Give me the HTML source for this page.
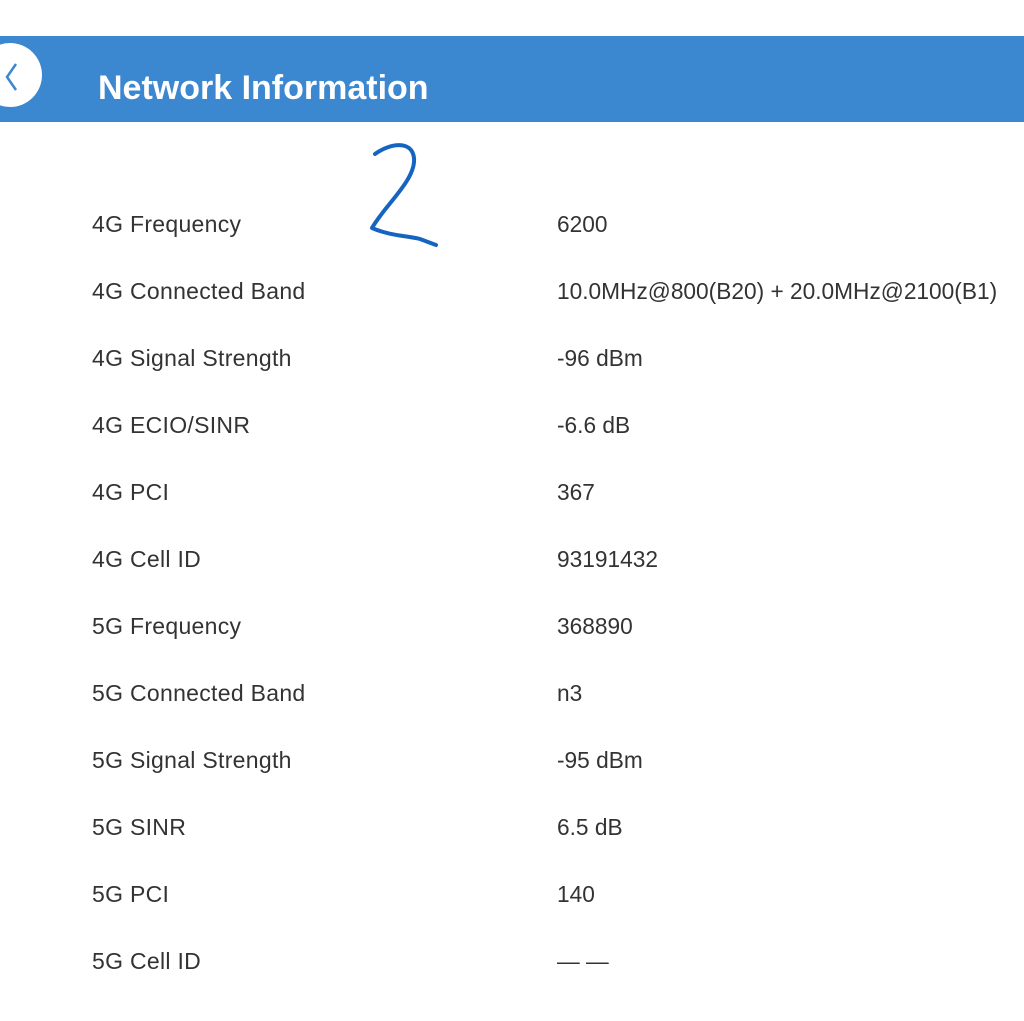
<!DOCTYPE html>
<html><head><meta charset="utf-8"><style>
html,body{margin:0;padding:0;background:#fff;width:1024px;height:1021px;overflow:hidden;position:relative;font-family:"Liberation Sans",sans-serif;}
.bar{position:absolute;left:0;top:36px;width:1024px;height:86px;background:#3b87d0;}
.circ{position:absolute;left:-22px;top:43px;width:64px;height:64px;border-radius:50%;background:#fff;}
.title{position:absolute;left:98px;top:68px;font-size:34px;font-weight:bold;color:#fff;line-height:40px;}
.l,.v{position:absolute;font-size:23px;color:#333;line-height:26px;}
.l{left:92px;letter-spacing:0.3px}.v{left:557px;font-size:22.7px}
</style></head><body>
<div class="bar"></div>
<div class="circ"></div>
<svg style="position:absolute;left:0;top:0" width="1024" height="1021">
<polyline points="16,64 7,77 16,90" fill="none" stroke="#3b87d0" stroke-width="2.5"/>
<path d="M375,154 C390,143 412,140 414,158 C416,180 385,205 372,228 C390,236 410,236 420,239 L436,245" fill="none" stroke="#1565c0" stroke-width="4" stroke-linecap="round" stroke-linejoin="round"/>
</svg>
<div class="title">Network Information</div>
<div class="l" style="top:211px">4G Frequency</div><div class="v" style="top:211px">6200</div>
<div class="l" style="top:278px">4G Connected Band</div><div class="v" style="top:278px">10.0MHz@800(B20) + 20.0MHz@2100(B1)</div>
<div class="l" style="top:345px">4G Signal Strength</div><div class="v" style="top:345px">-96 dBm</div>
<div class="l" style="top:412px">4G ECIO/SINR</div><div class="v" style="top:412px">-6.6 dB</div>
<div class="l" style="top:479px">4G PCI</div><div class="v" style="top:479px">367</div>
<div class="l" style="top:546px">4G Cell ID</div><div class="v" style="top:546px">93191432</div>
<div class="l" style="top:613px">5G Frequency</div><div class="v" style="top:613px">368890</div>
<div class="l" style="top:680px">5G Connected Band</div><div class="v" style="top:680px">n3</div>
<div class="l" style="top:747px">5G Signal Strength</div><div class="v" style="top:747px">-95 dBm</div>
<div class="l" style="top:814px">5G SINR</div><div class="v" style="top:814px">6.5 dB</div>
<div class="l" style="top:881px">5G PCI</div><div class="v" style="top:881px">140</div>
<div class="l" style="top:948px">5G Cell ID</div><div class="v" style="top:948px">— —</div>
</body></html>
